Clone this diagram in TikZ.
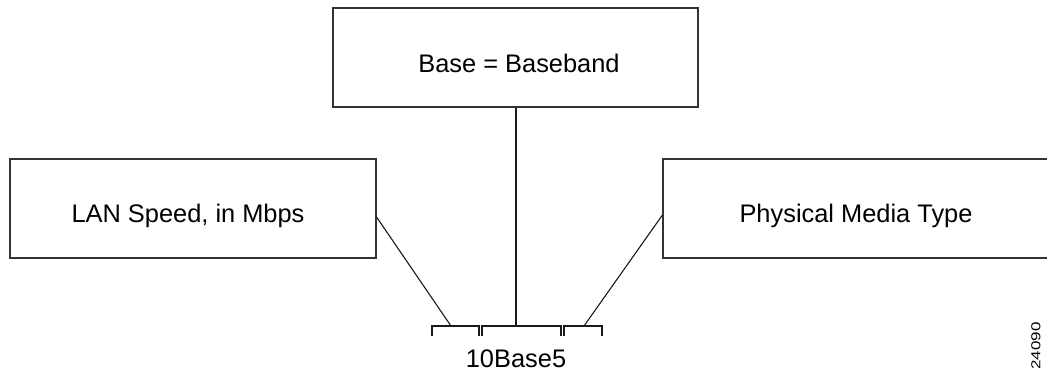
\documentclass[tikz,border=0pt]{standalone}
\usepackage{fontspec}
\setmainfont{Liberation Sans}
\begin{document}
\begin{tikzpicture}[x=1pt,y=-1pt,
  box/.style={draw=black!80,line width=1.1pt,rectangle,inner sep=0pt},
  lbl/.style={anchor=base,inner sep=0pt,font=\fontsize{25.4}{30}\selectfont},
  wire/.style={draw=black!90,line width=1.1pt},
  brk/.style={draw=black!90,line width=1.1pt}]
\useasboundingbox (0,0) rectangle (1047,373);
\begin{scope}
\clip (0,0) rectangle (1047,373);
% the three boxes; the right one runs off the page edge
\node[box,minimum width=365pt,minimum height=99pt] (base) at (515.5,57.5) {};
\node[box,minimum width=366pt,minimum height=99pt] (speed) at (193,208.5) {};
\node[box,minimum width=400pt,minimum height=99pt] (media) at (863,208.5) {};
\end{scope}
\node[lbl] (baseT) at (519,72) {Base = Baseband};
\node[lbl] (speedT) at (188,222) {LAN Speed, in Mbps};
\node[lbl] (mediaT) at (856,222) {Physical Media Type};
% the name and the brackets under its parts
\node[lbl] (name) at (516,367) {10Base5};
\coordinate (b1l) at (432,326); \coordinate (b1r) at (479,326);
\coordinate (b2l) at (482,326); \coordinate (b2r) at (561,326);
\coordinate (b3l) at (564,326); \coordinate (b3r) at (602,326);
\foreach \l/\r in {b1l/b1r,b2l/b2r,b3l/b3r}
  \draw[brk] ([yshift=-10pt]\l) -- (\l) -- (\r) -- ([yshift=-10pt]\r);
\coordinate (p1) at (451,326);
\coordinate (p2) at (516,326);
\coordinate (p3) at (584,326);
% connectors from the boxes to the brackets
\draw[wire] (speed.east |- 0,217) -- (p1);
\draw[wire] (base.south -| p2) -- (p2);
\draw[wire] (media.west |- 0,215) -- (p3);
% figure number
\node[inner sep=0pt,rotate=90,font=\fontsize{13}{15}\selectfont] (fig) at (1036,346)
  {\scalebox{1.3}[1]{24090}};
\end{tikzpicture}
\end{document}
